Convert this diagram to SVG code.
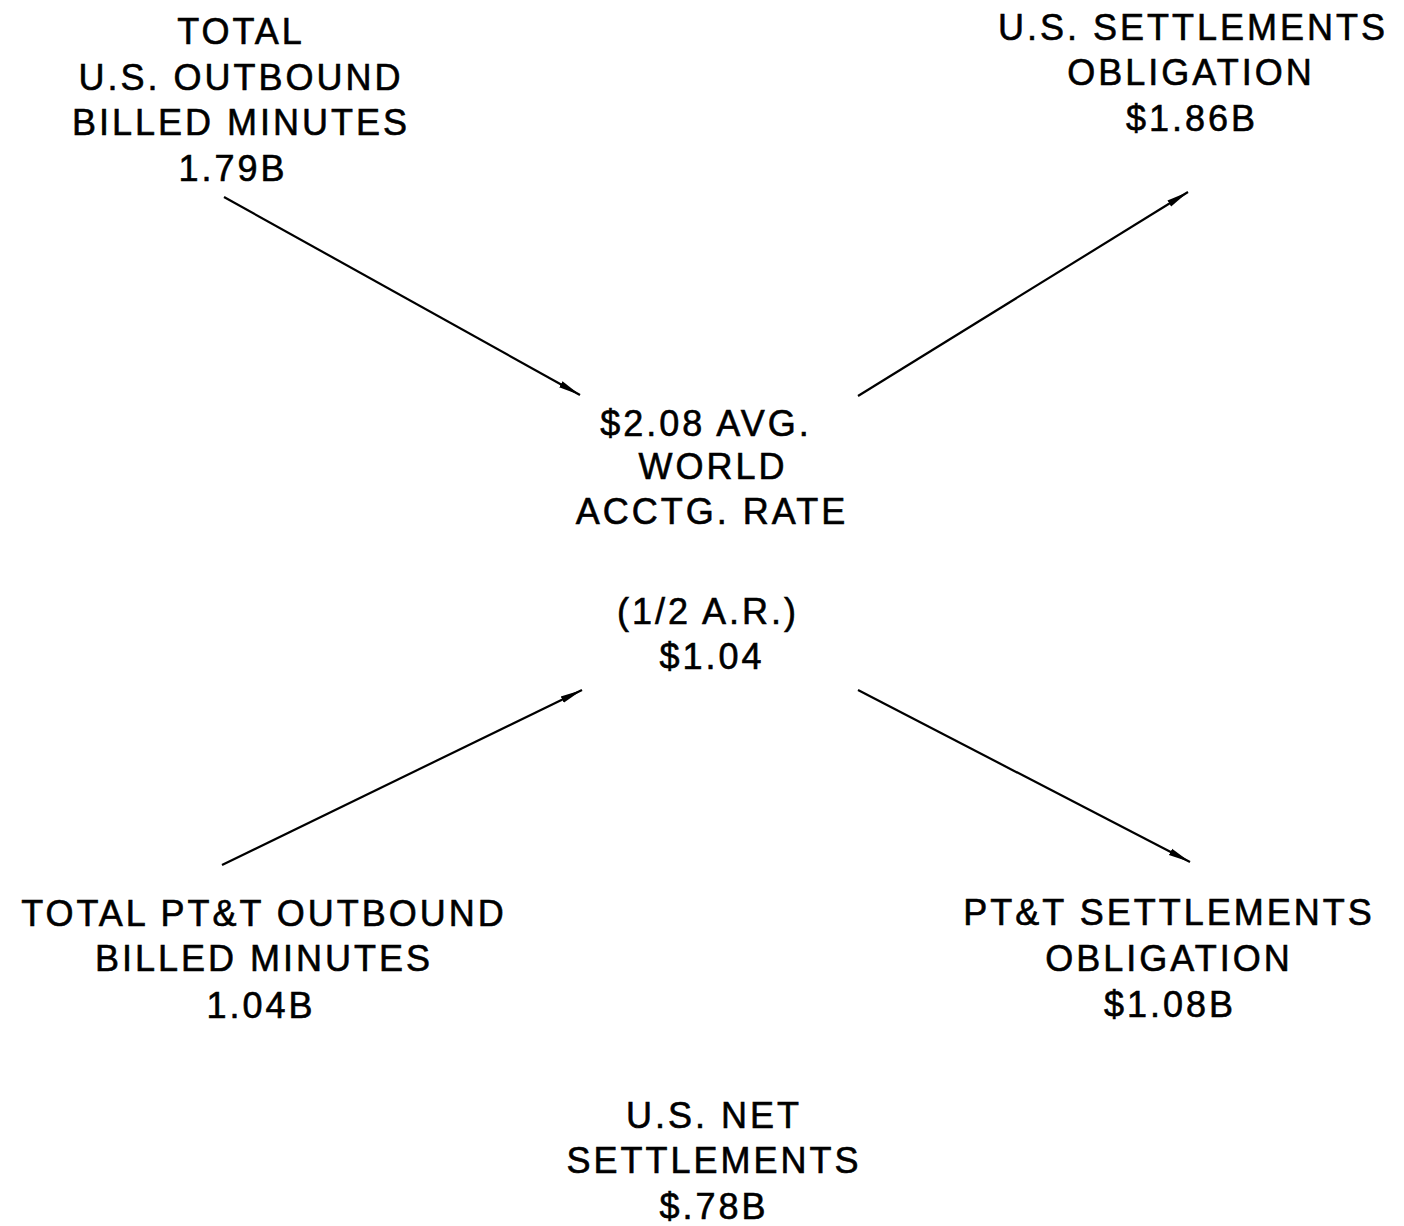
<svg xmlns="http://www.w3.org/2000/svg" width="1404" height="1226" viewBox="0 0 1404 1226">
<style>
text{font-family:"Liberation Sans",Arial,sans-serif;font-size:36px;fill:#000;stroke:#000;stroke-width:0.6px;text-anchor:middle;letter-spacing:3px}
.c line{stroke:#000;stroke-width:2.2;marker-end:url(#ah)}
</style>
<defs>
<marker id="ah" markerWidth="26" markerHeight="12" refX="22" refY="6" orient="auto" markerUnits="userSpaceOnUse">
<path d="M0,2.5 L22,6 L0,9.5 Z" fill="#000"/>
</marker>
</defs>
<rect width="1404" height="1226" fill="#fff"/>
<g id="n-us-minutes">
<text x="241" y="44">TOTAL</text>
<text x="241" y="90">U.S. OUTBOUND</text>
<text x="241" y="135">BILLED MINUTES</text>
<text x="233" y="181">1.79B</text>
</g>
<g id="n-us-settle">
<text x="1193" y="40">U.S. SETTLEMENTS</text>
<text x="1191" y="85">OBLIGATION</text>
<text x="1192" y="131">$1.86B</text>
</g>
<g id="n-center">
<text x="706" y="436">$2.08 AVG.</text>
<text x="713" y="479">WORLD</text>
<text x="712" y="524">ACCTG. RATE</text>
<text x="708" y="624">(1/2 A.R.)</text>
<text x="712" y="669">$1.04</text>
</g>
<g id="n-ptt-minutes">
<text x="264" y="926" letter-spacing="3.5">TOTAL PT&amp;T OUTBOUND</text>
<text x="264" y="971">BILLED MINUTES</text>
<text x="261" y="1018">1.04B</text>
</g>
<g id="n-ptt-settle">
<text x="1169" y="925">PT&amp;T SETTLEMENTS</text>
<text x="1169" y="971">OBLIGATION</text>
<text x="1170" y="1017">$1.08B</text>
</g>
<g id="n-net">
<text x="714" y="1128">U.S. NET</text>
<text x="714" y="1173">SETTLEMENTS</text>
<text x="714" y="1219">$.78B</text>
</g>
<g class="c" id="connectors">
<line x1="224" y1="197" x2="580" y2="395"/>
<line x1="858" y1="396" x2="1188" y2="192"/>
<line x1="222" y1="865" x2="582" y2="690"/>
<line x1="858" y1="690" x2="1190" y2="862"/>
</g>
</svg>
